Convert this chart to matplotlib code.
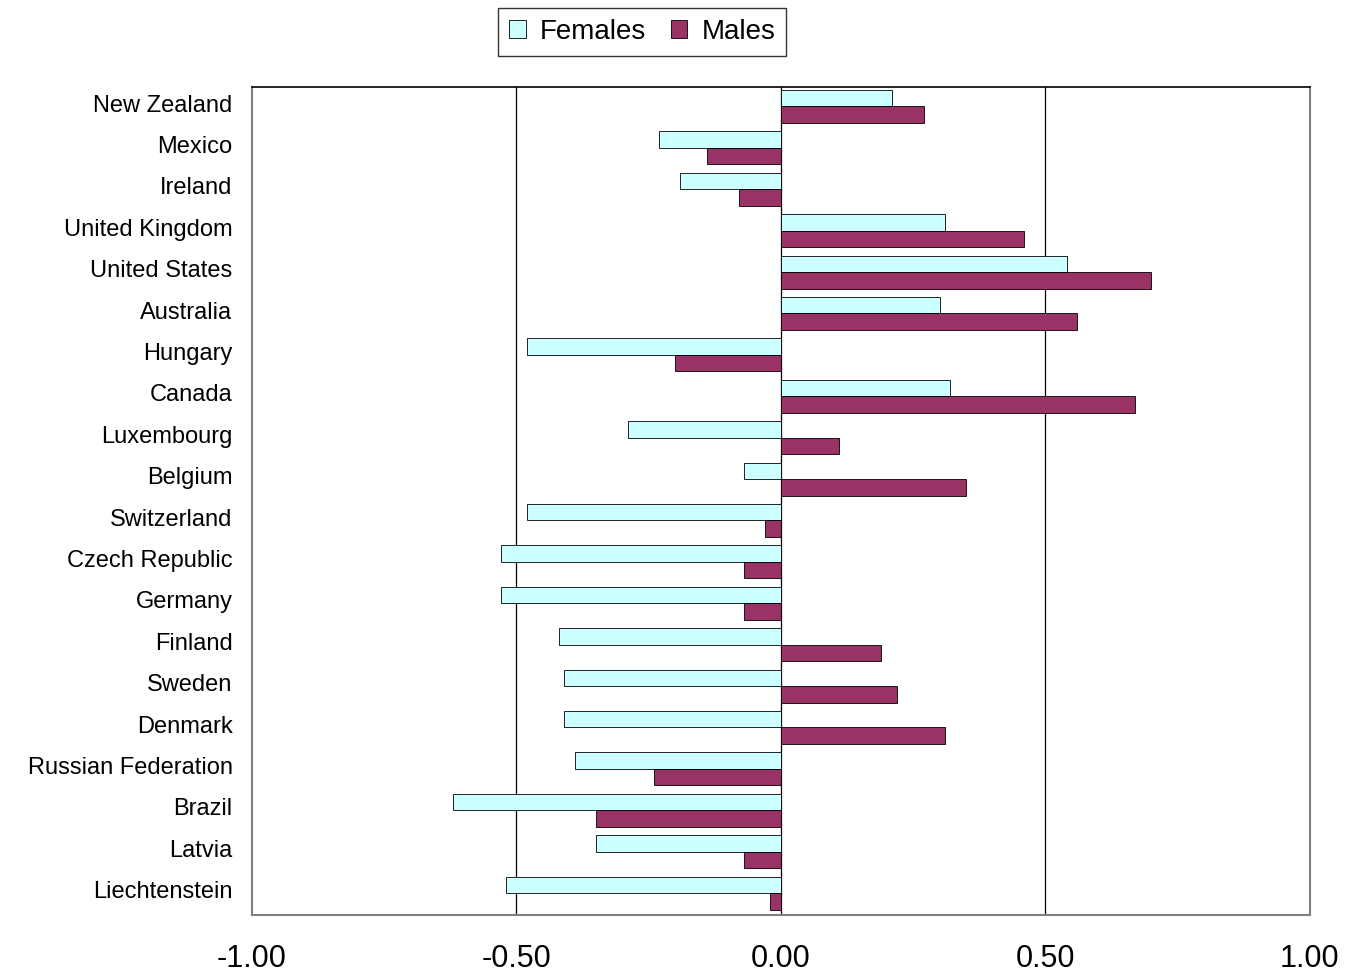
import numpy as np
import matplotlib
matplotlib.use("Agg")
import matplotlib.pyplot as plt

plt.rcParams['font.family'] = ['Liberation Sans', 'DejaVu Sans']

countries = ["New Zealand", "Mexico", "Ireland", "United Kingdom", "United States",
             "Australia", "Hungary", "Canada", "Luxembourg", "Belgium",
             "Switzerland", "Czech Republic", "Germany", "Finland", "Sweden",
             "Denmark", "Russian Federation", "Brazil", "Latvia", "Liechtenstein"]
females = [0.21, -0.23, -0.19, 0.31, 0.54, 0.30, -0.48, 0.32, -0.29, -0.07,
           -0.48, -0.53, -0.53, -0.42, -0.41, -0.41, -0.39, -0.62, -0.35, -0.52]
males = [0.27, -0.14, -0.08, 0.46, 0.70, 0.56, -0.20, 0.67, 0.11, 0.35,
         -0.03, -0.07, -0.07, 0.19, 0.22, 0.31, -0.24, -0.35, -0.07, -0.02]
xticks = [-1.0, -0.5, 0.0, 0.5, 1.0]

fig = plt.figure(figsize=(13.49, 9.72), dpi=100)
ax = fig.add_axes([0.1868, 0.0586, 0.7842, 0.8519])

y = np.arange(len(countries))
h = 0.4
ax.barh(y - h / 2 - 0.03, females, height=h, color='#CCFFFF', edgecolor='black',
        linewidth=0.6, label='Females', zorder=3)
ax.barh(y + h / 2 - 0.03, males, height=h, color='#993366', edgecolor='black',
        linewidth=0.6, label='Males', zorder=3)

ax.set_ylim(len(countries) - 0.5, -0.5)
ax.set_xlim(-1, 1)
ax.set_yticks(y - 0.11)
ax.set_yticklabels(countries, fontsize=17)
ax.set_xticks(xticks)
ax.set_xticklabels(['%.2f' % v for v in xticks], fontsize=22,
                   family=['Liberation Sans Narrow', 'Liberation Sans'])
ax.tick_params(length=0)
ax.tick_params(axis='x', pad=21)
ax.tick_params(axis='y', pad=14)

for v in [-0.5, 0.0, 0.5]:
    ax.axvline(v, color='black', linewidth=0.9, zorder=1)

for side in ['left', 'right', 'bottom']:
    ax.spines[side].set_color('#808080')
    ax.spines[side].set_linewidth(1.5)
ax.spines['top'].set_color('black')
ax.spines['top'].set_linewidth(1.2)

leg = fig.legend(loc='center', bbox_to_anchor=(0.476, 0.967), ncol=2, fontsize=20,
                 frameon=True, fancybox=False, edgecolor='black', handlelength=0.6,
                 handleheight=0.6, handletextpad=0.5, columnspacing=0.9,
                 borderpad=0.4)
leg.get_frame().set_linewidth(1.0)

fig.savefig('out.png', dpi=100)
